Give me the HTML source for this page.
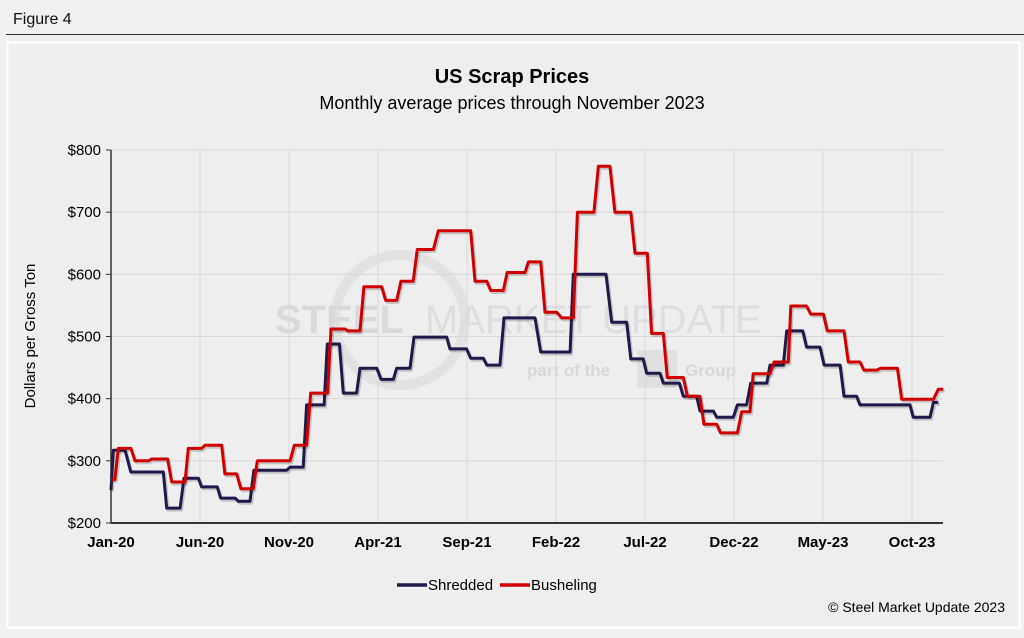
<!DOCTYPE html>
<html><head><meta charset="utf-8"><style>
html,body{margin:0;padding:0;background:#f0f0f0;}
body{width:1024px;height:633px;overflow:hidden;position:relative;font-family:"Liberation Sans",Arial,sans-serif;}
</style></head><body>
<svg id="chart" width="1024" height="633" viewBox="0 0 1024 633" xmlns="http://www.w3.org/2000/svg" font-family="Liberation Sans, Arial, sans-serif">
<rect x="0" y="0" width="1024" height="633" fill="#f0f0f0"/>
<text x="13" y="24" font-size="16" fill="#111">Figure 4</text>
<line x1="6" y1="34.5" x2="1024" y2="34.5" stroke="#333" stroke-width="1"/>
<rect x="7.5" y="42.5" width="1012" height="585" fill="#eeeeee" stroke="#ffffff" stroke-width="2"/>
<text x="512" y="83" font-size="20" font-weight="bold" text-anchor="middle" fill="#000">US Scrap Prices</text>
<text x="512" y="109" font-size="18" text-anchor="middle" fill="#000">Monthly average prices through November 2023</text>
<g>
<circle cx="400" cy="320" r="65" fill="none" stroke="#e2e2e2" stroke-width="10"/>
<text x="275" y="333" font-size="40" font-weight="bold" fill="#dadada">STEEL</text>
<text x="425" y="333" font-size="40" fill="#dedede">MARKET UPDATE</text>
<text x="527" y="376" font-size="17" font-weight="bold" fill="#d8d8d8">part of the</text>
<rect x="637" y="350" width="40" height="38" rx="3" fill="#e0e0e0"/>
<text x="685" y="376" font-size="17" font-weight="bold" fill="#d8d8d8">Group</text>
</g>
<g id="grid"></g>
<g id="axes"></g>
<g id="series"></g>
<text transform="translate(35,336) rotate(-90)" font-size="15" text-anchor="middle" fill="#000">Dollars per  Gross Ton</text>
<g>
<g>
<line x1="397" y1="585" x2="427" y2="585" stroke="#1f1a4a" stroke-width="3.5"/>
<text x="428" y="590" font-size="15" fill="#000">Shredded</text>
</g>
<g>
<line x1="500" y1="585" x2="530" y2="585" stroke="#d00000" stroke-width="3.5"/>
<text x="531" y="590" font-size="15" fill="#000">Busheling</text>
</g>
</g>
<text x="1005" y="612" font-size="14" text-anchor="end" fill="#000">© Steel Market Update 2023</text>
</svg>
<script>
const yTicks = [200,300,400,500,600,700,800];
const xTickMonths = [0,5,10,15,20,25,30,35,40,45];
const xTickLabels = ["Jan-20","Jun-20","Nov-20","Apr-21","Sep-21","Feb-22","Jul-22","Dec-22","May-23","Oct-23"];
const shreddedMonths = [0,0.13,0.79,1.11,2.94,3.13,3.88,4.10,4.91,5.09,5.97,6.16,6.97,7.15,7.81,8.03,9.87,10.06,10.80,10.99,11.97,12.15,12.83,13.05,13.80,13.99,14.93,15.17,15.86,16.05,16.80,17.02,18.86,19.04,19.98,20.21,20.92,21.11,21.85,22.08,23.82,24.14,25.79,25.97,27.81,28.13,28.97,29.20,29.90,30.09,30.84,31.03,31.93,32.15,32.90,33.09,33.84,34.03,34.96,35.19,35.71,35.94,36.84,37.02,37.77,37.96,38.86,39.08,39.83,40.06,40.96,41.18,41.89,42.08,44.89,45.07,46.01,46.20,46.48];
const shreddedValues = [253,317,317,282,282,224,224,272,272,258,258,240,240,235,235,285,285,290,290,390,390,488,488,409,409,449,449,431,431,449,449,499,499,480,480,465,465,454,454,530,530,475,475,600,600,523,523,464,464,441,441,425,425,404,404,380,380,370,370,390,390,425,425,454,454,509,509,483,483,454,454,404,404,390,390,370,370,394,394];
const bushelingMonths = [0,0.22,0.41,1.12,1.35,2.10,2.29,3.18,3.41,4.16,4.34,5.09,5.28,6.22,6.40,7.06,7.30,7.99,8.22,10.06,10.30,10.99,11.22,12.17,12.36,13.15,13.33,13.99,14.21,15.21,15.43,16.05,16.29,16.98,17.21,18.11,18.39,20.21,20.45,21.11,21.33,22.04,22.26,23.26,23.45,24.14,24.38,25.04,25.32,25.97,26.20,27.13,27.38,28.03,28.31,29.20,29.44,30.13,30.37,31.03,31.25,32.15,32.38,33.09,33.31,34.03,34.25,35.19,35.43,35.90,36.08,37.02,37.25,38.05,38.19,39.08,39.31,40.02,40.24,41.18,41.42,42.08,42.30,43.02,43.24,44.18,44.42,46.20,46.48,46.76];
const bushelingValues = [270,270,320,320,300,300,303,303,266,266,320,320,325,325,279,279,255,255,300,300,325,325,409,409,512,512,509,509,580,580,558,558,589,589,640,640,670,670,589,589,574,574,603,603,620,620,539,539,530,530,700,700,774,774,700,700,634,634,505,505,434,434,404,404,359,359,345,345,379,379,440,440,459,459,549,549,536,536,509,509,459,459,446,446,449,449,399,399,415,415];

const X0=111, PXM=17.8, XR=943, YB=523, YT=150, VMIN=200, VMAX=800;
function xs(m){return X0+m*PXM;}
function ys(v){return YB-(v-VMIN)/(VMAX-VMIN)*(YB-YT);}
const NS="http://www.w3.org/2000/svg";
function mk(t,a,p){const e=document.createElementNS(NS,t);for(const k in a)e.setAttribute(k,a[k]);p.appendChild(e);return e;}
const grid=document.getElementById('grid'), axes=document.getElementById('axes'), series=document.getElementById('series');
yTicks.forEach(v=>{
  const l=mk('line',{x1:X0,x2:XR,y1:ys(v),y2:ys(v),stroke:'#d8d8d8','stroke-width':1},grid);
  
  
  const tk=mk('line',{x1:X0-5,x2:X0,y1:ys(v),y2:ys(v),stroke:'#333','stroke-width':1},axes);
  
  
  const t=mk('text',{x:X0-10,y:ys(v)+5,'font-size':15,'text-anchor':'end',fill:'#000'},axes);
  t.textContent='$'+v;
  
  
});
xTickMonths.forEach((m,i)=>{
  if(i>0){const l=mk('line',{x1:xs(m),x2:xs(m),y1:YT,y2:YB,stroke:'#d8d8d8','stroke-width':1},grid);
  
  }
  const t=mk('text',{x:xs(m),y:YB+24,'font-size':15,'font-weight':'bold','text-anchor':'middle',fill:'#000'},axes);
  t.textContent=xTickLabels[i];
  
  
});
const ya=mk('line',{x1:X0,x2:X0,y1:YT,y2:YB,stroke:'#333','stroke-width':1.5},axes);


const xa=mk('line',{x1:X0,x2:XR,y1:YB,y2:YB,stroke:'#333','stroke-width':2},axes);


function draw(ms,vs,color,name){
  const pts=ms.map((m,i)=>xs(m).toFixed(1)+','+ys(vs[i]).toFixed(1)).join(' ');
  const sh=mk('polyline',{points:pts,fill:'none',stroke:'rgba(0,0,0,0.18)','stroke-width':3,transform:'translate(1.5,2)','stroke-linejoin':'round'},series);
  
  
  const p=mk('polyline',{points:pts,fill:'none',stroke:color,'stroke-width':3,'stroke-linejoin':'round'},series);
  
  
}
draw(shreddedMonths,shreddedValues,'#1f1a4a','shredded');
draw(bushelingMonths,bushelingValues,'#d00000','busheling');
</script>
</body></html>
